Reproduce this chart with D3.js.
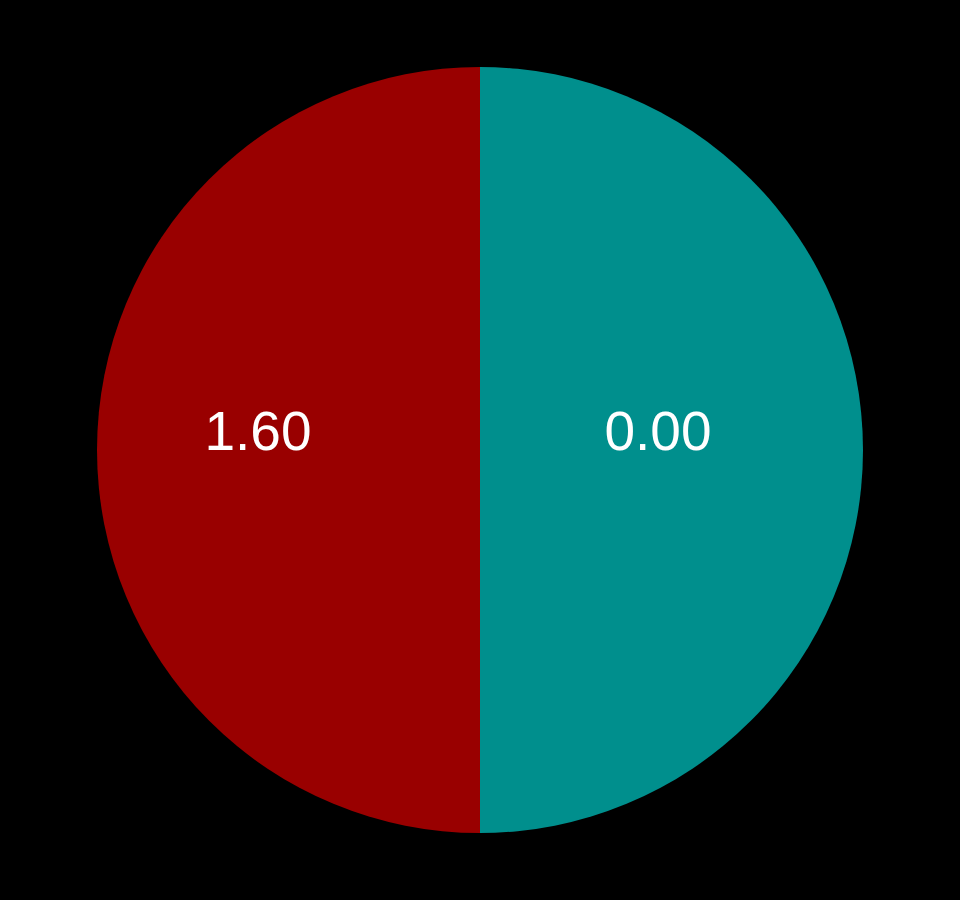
<!DOCTYPE html>
<html>
<head>
<meta charset="utf-8">
<script src="https://cdn.jsdelivr.net/npm/d3@7"></script>
<style>
  html, body { margin: 0; padding: 0; background: #000; }
  svg { display: block; }
</style>
</head>
<body>
<script>
const categories = ["B", "A"];
const sliceValues = [50, 50];
const sliceLabels = ["0.00", "1.60"];
const sliceColors = ["#008f8d", "#990000"];

const width = 960, height = 900;
const cx = 480, cy = 450, radius = 383;

const svg = d3.select("body").append("svg")
  .attr("width", width).attr("height", height)
  .style("background", "#000");

const g = svg.append("g").attr("transform", `translate(${cx},${cy})`);

const data = categories.map((c, i) => ({ cat: c, value: sliceValues[i], label: sliceLabels[i], color: sliceColors[i] }));

const pie = d3.pie().sort(null).value(d => d.value);
const arc = d3.arc().innerRadius(0).outerRadius(radius);
const labelArc = d3.arc().innerRadius(400).outerRadius(0);

const arcs = pie(data);

g.selectAll("path").data(arcs).enter().append("path")
  .attr("d", arc)
  .attr("fill", d => d.data.color);

g.selectAll("text").data(arcs).enter().append("text")
  .attr("x", d => labelArc.centroid(d)[0] - 22)
  .attr("y", 0)
  .attr("text-anchor", "middle")
  .attr("fill", "#fff")
  .style("font-family", "'Liberation Sans', Arial, sans-serif")
  .style("font-size", "55px")
  .text(d => d.data.label);
</script>
</body>
</html>
